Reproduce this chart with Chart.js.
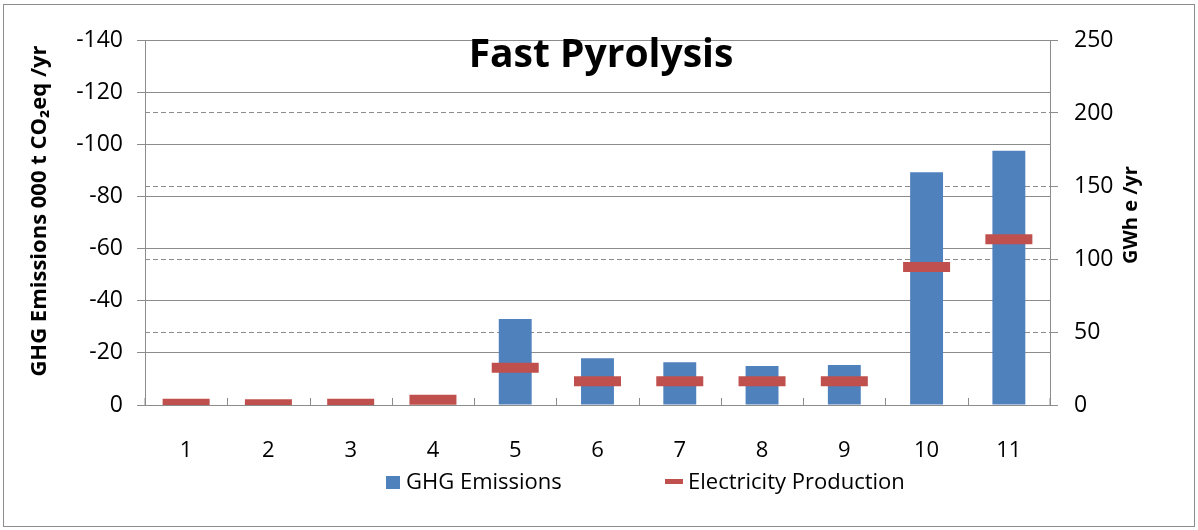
<!DOCTYPE html>
<html>
<head>
<meta charset="utf-8">
<script src="https://cdn.jsdelivr.net/npm/chart.js@4.4.1/dist/chart.umd.min.js"></script>
<style>
    html, body { margin: 0; padding: 0; background: #fff; }
    #wrap { width: 1198px; height: 530px; }
</style>
</head>
<body>
<div id="wrap"><canvas id="PyrolysisChart"></canvas></div>
<script>
// values
const categories = ['1', '2', '3', '4', '5', '6', '7', '8', '9', '10', '11'];
const ghgEmissions = [0, 0, 0, 0, -33, -17.9, -16.4, -15, -15.3, -89.3, -97.5];
const electricityProduction = [0.9, 0.5, 0.9, 3.6, 25.5, 16.2, 16.2, 16.2, 16.2, 94.5, 113.5];
const ghgAxis = {min: -140, max: 0, step: 20};
const gwhAxis = {min: 0, max: 250, step: 50};

const FONT = "'Open Sans', sans-serif";
const GRID = '#8c8c8c';
const BLUE = '#4f81bd';
const RED = '#c0504d';

// frame, title, axis titles, legend and the little upward x ticks
const decorations = {
    id: 'decorations',
    beforeDraw(chart) {
        let ctx = chart.ctx;
        ctx.save();
        ctx.fillStyle = '#fff';
        ctx.fillRect(0, 0, chart.width, chart.height);
        ctx.strokeStyle = '#8c8c8c';
        ctx.lineWidth = 1;
        ctx.strokeRect(3.5, 4.5, chart.width - 7, chart.height - 8);
        ctx.restore();
    },
    afterDraw(chart) {
        let ctx = chart.ctx;
        let area = chart.chartArea;
        let x = chart.scales.x;
        ctx.save();

        // x tick marks between categories
        ctx.strokeStyle = GRID;
        ctx.lineWidth = 1;
        ctx.beginPath();
        for (let i = 0; i <= categories.length; i++) {
            let px;
            if (i === 0) px = area.left;
            else if (i === categories.length) px = area.right;
            else px = Math.round((x.getPixelForTick(i - 1) + x.getPixelForTick(i)) / 2) + 0.5;
            ctx.moveTo(px, area.bottom);
            ctx.lineTo(px, area.bottom - 7);
        }
        ctx.stroke();

        // title
        ctx.fillStyle = '#000';
        ctx.font = 'bold 39px ' + FONT;
        ctx.textAlign = 'center';
        ctx.textBaseline = 'middle';
        ctx.fillText('Fast Pyrolysis', 601, 56);

        // axis titles
        ctx.font = 'bold 22px ' + FONT;
        ctx.save();
        ctx.translate(40, 211);
        ctx.rotate(-Math.PI / 2);
        ctx.fillText('GHG Emissions 000 t CO\u2082eq /yr', 0, 0);
        ctx.restore();
        ctx.font = 'bold 20px ' + FONT;
        ctx.save();
        ctx.translate(1131, 215);
        ctx.rotate(-Math.PI / 2);
        ctx.fillText('GWh e /yr', 0, 0);
        ctx.restore();

        // legend
        let sets = chart.data.datasets;
        ctx.font = '22px ' + FONT;
        ctx.textAlign = 'left';
        ctx.fillStyle = sets[0].backgroundColor;
        ctx.fillRect(386, 476, 14, 13);
        ctx.fillStyle = '#000';
        ctx.fillText(sets[0].label, 406, 483);
        ctx.fillStyle = sets[1].borderColor;
        ctx.fillRect(665, 479, 18, 5);
        ctx.fillStyle = '#000';
        ctx.fillText(sets[1].label, 688, 483);

        ctx.restore();
    }
};

let ctx = document.getElementById('PyrolysisChart').getContext('2d');
let pyrolysisChart = new Chart(ctx, {
    type: 'bar',
    data: {
        labels: categories,
        datasets: [
            {
                label: 'GHG Emissions',
                data: ghgEmissions,
                backgroundColor: BLUE,
                borderWidth: 0,
                yAxisID: 'y',
                barPercentage: 0.4,
                categoryPercentage: 1,
                order: 2
            },
            {
                type: 'line',
                label: 'Electricity Production',
                data: electricityProduction,
                yAxisID: 'y1',
                showLine: false,
                pointStyle: 'line',
                pointRadius: 23.5,
                pointHoverRadius: 23.5,
                pointBorderWidth: 10,
                pointHoverBorderWidth: 10,
                borderColor: RED,
                backgroundColor: RED,
                order: 1
            }
        ]
    },
    options: {
        responsive: true,
        maintainAspectRatio: false,
        animation: false,
        events: [],
        layout: {padding: {left: 10, right: 10, top: 40, bottom: 67}},
        plugins: {
            tooltip: {enabled: false},
            title: {display: false},
            legend: {display: false}
        },
        scales: {
            x: {
                offset: true,
                grid: {display: false, drawTicks: false},
                border: {display: true, color: GRID, width: 1},
                ticks: {color: '#000', padding: 33, font: {family: FONT, size: 22}},
                afterFit: scale => { scale.height = 58; }
            },
            y: {
                position: 'left',
                reverse: true,
                min: ghgAxis.min,
                max: ghgAxis.max,
                ticks: {stepSize: ghgAxis.step, color: '#000', padding: 14, font: {family: FONT, size: 23}},
                grid: {color: GRID, tickLength: 8},
                border: {color: GRID},
                afterFit: scale => { scale.width = 135; }
            },
            y1: {
                position: 'right',
                min: gwhAxis.min,
                max: gwhAxis.max,
                ticks: {stepSize: gwhAxis.step, color: '#000', padding: 16, font: {family: FONT, size: 23}},
                grid: {color: GRID, tickLength: 8},
                border: {color: GRID, dash: [5, 3]},
                afterFit: scale => { scale.width = 138; }
            }
        }
    },
    plugins: [decorations]
});
</script>
</body>
</html>
